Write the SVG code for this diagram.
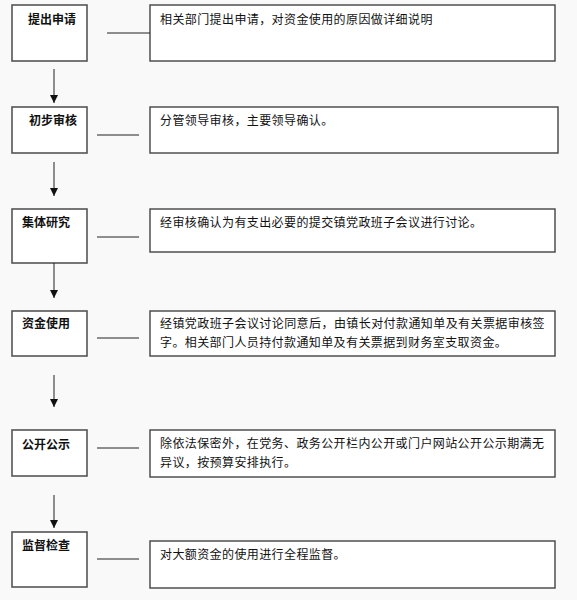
<svg xmlns="http://www.w3.org/2000/svg" width="577" height="600" viewBox="0 0 577 600">
<style>
.step{fill:#fff;stroke:#555;stroke-width:1.6}
.desc{fill:#fff;stroke:#444;stroke-width:1.4}
.lbl{font-family:"Noto Sans CJK SC","Noto Sans",sans-serif;font-size:12px;font-weight:bold;fill:#111}
.txt{font-family:"Noto Sans CJK SC","Noto Sans",sans-serif;font-size:12px;fill:#111;letter-spacing:0.4px}
.con{stroke:#222;stroke-width:1;fill:none}
</style>
<defs>
<marker id="ah" viewBox="0 0 8 10" refX="8" refY="5" markerWidth="8" markerHeight="10" markerUnits="userSpaceOnUse" orient="auto">
<path d="M0,1 L8,5 L0,9 Z" fill="#111"/>
</marker>
</defs>
<rect width="577" height="600" fill="#f9f9f9"/>
<g id="n1"><rect class="step" x="12" y="5" width="75" height="56"/><text class="lbl" x="28" y="24">提出申请</text></g>
<g id="d1"><rect class="desc" x="150" y="5" width="405" height="56"/><text class="txt" x="160" y="24">相关部门提出申请，对资金使用的原因做详细说明</text></g>
<g id="n2"><rect class="step" x="12" y="107" width="75" height="46"/><text class="lbl" x="29" y="125">初步审核</text></g>
<g id="d2"><rect class="desc" x="150" y="107" width="408" height="46"/><text class="txt" x="160" y="125">分管领导审核，主要领导确认。</text></g>
<g id="n3"><rect class="step" x="12" y="209" width="75" height="54"/><text class="lbl" x="22" y="227">集体研究</text></g>
<g id="d3"><rect class="desc" x="150" y="209" width="405" height="43"/><text class="txt" x="160" y="227">经审核确认为有支出必要的提交镇党政班子会议进行讨论。</text></g>
<g id="n4"><rect class="step" x="12" y="311" width="75" height="45"/><text class="lbl" x="22" y="328">资金使用</text></g>
<g id="d4"><rect class="desc" x="150" y="311" width="405" height="45"/><text class="txt" x="160" y="328" textLength="385" lengthAdjust="spacing">经镇党政班子会议讨论同意后，由镇长对付款通知单及有关票据审核签</text><text class="txt" x="160" y="347">字。相关部门人员持付款通知单及有关票据到财务室支取资金。</text></g>
<g id="n5"><rect class="step" x="12" y="430" width="75" height="46"/><text class="lbl" x="22" y="449">公开公示</text></g>
<g id="d5"><rect class="desc" x="150" y="430" width="405" height="47"/><text class="txt" x="160" y="448">除依法保密外，在党务、政务公开栏内公开或门户网站公开公示期满无</text><text class="txt" x="160" y="467">异议，按预算安排执行。</text></g>
<g id="n6"><rect class="step" x="12" y="532" width="75" height="55"/><text class="lbl" x="22" y="550">监督检查</text></g>
<g id="d6"><rect class="desc" x="150" y="541" width="405" height="47"/><text class="txt" x="160" y="559">对大额资金的使用进行全程监督。</text></g>
<g id="connectors">
<line class="con" x1="107" y1="33" x2="150" y2="33"/>
<line class="con" x1="97" y1="135" x2="139" y2="135"/>
<line class="con" x1="97" y1="237" x2="139" y2="237"/>
<line class="con" x1="97" y1="338" x2="139" y2="338"/>
<line class="con" x1="97" y1="448" x2="139" y2="448"/>
<line class="con" x1="97" y1="559" x2="139" y2="559"/>
<line class="con" x1="54" y1="69" x2="54" y2="103" marker-end="url(#ah)"/>
<line class="con" x1="54" y1="162" x2="54" y2="196" marker-end="url(#ah)"/>
<line class="con" x1="54" y1="263" x2="54" y2="298" marker-end="url(#ah)"/>
<line class="con" x1="54" y1="375" x2="54" y2="407" marker-end="url(#ah)"/>
<line class="con" x1="54" y1="495" x2="54" y2="528" marker-end="url(#ah)"/>
</g>
</svg>
